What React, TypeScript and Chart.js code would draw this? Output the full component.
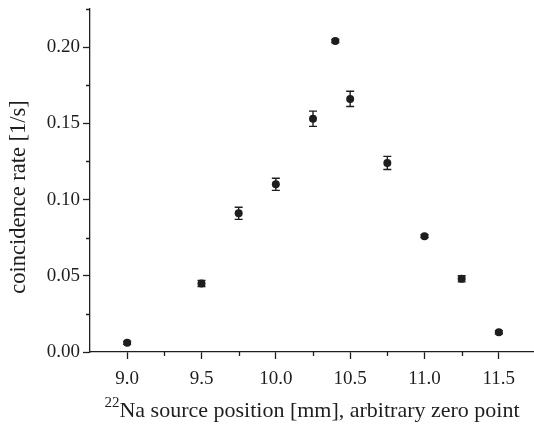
import React, { useEffect, useRef } from 'react';
import { Chart, registerables } from 'chart.js';

Chart.register(...registerables);

// ---- data ----
const positions = [9.0, 9.5, 9.75, 10.0, 10.25, 10.4, 10.5, 10.75, 11.0, 11.25, 11.5];
const rates = [0.006, 0.045, 0.091, 0.110, 0.153, 0.204, 0.166, 0.124, 0.076, 0.048, 0.013];
const rateErrors = [0.001, 0.002, 0.004, 0.004, 0.005, 0.001, 0.005, 0.0043, 0.001, 0.002, 0.001];

const xMajorTicks = [9.0, 9.5, 10.0, 10.5, 11.0, 11.5];
const xMinorTicks = [9.25, 9.75, 10.25, 10.75, 11.25, 11.75];
const yMajorTicks = [0, 0.05, 0.10, 0.15, 0.20];
const yMinorTicks = [0.025, 0.075, 0.125, 0.175, 0.225];

const xTitleSup = '22';
const xTitleMain = 'Na source position [mm], arbitrary zero point';
const yTitle = 'coincidence rate [1/s]';

const FONT = '"Liberation Serif", "DejaVu Serif", serif';
const INK = '#1e1e1e';

const errorBarPlugin = {
  id: 'errorBars',
  afterDatasetsDraw(chart: any) {
    const xs = chart.scales.x;
    const ys = chart.scales.y;
    const ctx = chart.ctx;
    ctx.save();
    ctx.strokeStyle = INK;
    ctx.lineWidth = 1.4;
    positions.forEach((p, i) => {
      const x = xs.getPixelForValue(p);
      const yTop = ys.getPixelForValue(rates[i] + rateErrors[i]);
      const yBot = ys.getPixelForValue(rates[i] - rateErrors[i]);
      ctx.beginPath();
      ctx.moveTo(x, yTop);
      ctx.lineTo(x, yBot);
      ctx.moveTo(x - 4, yTop);
      ctx.lineTo(x + 4, yTop);
      ctx.moveTo(x - 4, yBot);
      ctx.lineTo(x + 4, yBot);
      ctx.stroke();
    });
    ctx.restore();
  },
};

const minorTickAndTitlePlugin = {
  id: 'minorTicksTitles',
  afterDraw(chart: any) {
    const xs = chart.scales.x;
    const ys = chart.scales.y;
    const area = chart.chartArea;
    const ctx = chart.ctx;
    ctx.save();
    ctx.strokeStyle = INK;
    ctx.lineWidth = 1.3;
    ctx.beginPath();
    yMinorTicks.forEach((v) => {
      const y = Math.round(ys.getPixelForValue(v)) + 0.5;
      ctx.moveTo(area.left - 4, y);
      ctx.lineTo(area.left, y);
    });
    xMinorTicks.forEach((v) => {
      const x = Math.round(xs.getPixelForValue(v)) + 0.5;
      ctx.moveTo(x, area.bottom);
      ctx.lineTo(x, area.bottom + 4);
    });
    ctx.stroke();

    // x axis title with superscript
    ctx.fillStyle = INK;
    ctx.textBaseline = 'alphabetic';
    ctx.textAlign = 'left';
    const mainFont = `22px ${FONT}`;
    const supFont = `15px ${FONT}`;
    ctx.font = supFont;
    const supW = ctx.measureText(xTitleSup).width;
    ctx.font = mainFont;
    const mainW = ctx.measureText(xTitleMain).width;
    const startX = 312 - (supW + mainW) / 2;
    const baseY = 417;
    ctx.font = supFont;
    ctx.fillText(xTitleSup, startX, baseY - 10.5);
    ctx.font = mainFont;
    ctx.fillText(xTitleMain, startX + supW, baseY);

    // y axis title
    ctx.font = `22.5px ${FONT}`;
    ctx.textAlign = 'center';
    ctx.textBaseline = 'middle';
    ctx.translate(19, 197);
    ctx.rotate(-Math.PI / 2);
    ctx.fillText(yTitle, 0, 0);
    ctx.restore();
  },
};

export default function App() {
  const canvasRef = useRef<HTMLCanvasElement | null>(null);

  useEffect(() => {
    if (!canvasRef.current) return;
    const chart = new Chart(canvasRef.current, {
      type: 'scatter',
      data: {
        datasets: [
          {
            data: positions.map((p, i) => ({ x: p, y: rates[i] })),
            backgroundColor: INK,
            borderWidth: 0,
            pointRadius: 4,
            showLine: false,
          },
        ],
      },
      options: {
        animation: false,
        responsive: false,
        devicePixelRatio: 1,
        layout: { padding: { top: 9, right: 4, bottom: 0, left: 0 } },
        plugins: { legend: { display: false }, tooltip: { enabled: false } },
        scales: {
          x: {
            type: 'linear',
            min: 8.75,
            max: 11.75,
            afterBuildTicks: (s: any) => {
              s.ticks = xMajorTicks.map((v) => ({ value: v }));
            },
            afterFit: (s: any) => {
              s.height = 72;
              s.paddingLeft = 0;
              s.paddingRight = 0;
            },
            grid: { drawOnChartArea: false, tickLength: 7, tickColor: INK, tickWidth: 1.3 },
            border: { color: INK, width: 1.3 },
            ticks: {
              color: INK,
              font: { family: FONT, size: 19 },
              padding: 9,
              maxRotation: 0,
              autoSkip: false,
              callback: (v: any) => Number(v).toFixed(1),
            },
            title: { display: false },
          },
          y: {
            type: 'linear',
            min: 0,
            max: 0.225,
            afterBuildTicks: (s: any) => {
              s.ticks = yMajorTicks.map((v) => ({ value: v }));
            },
            afterFit: (s: any) => {
              s.width = 90;
              s.paddingTop = 0;
              s.paddingBottom = 0;
            },
            grid: { drawOnChartArea: false, tickLength: 7, tickColor: INK, tickWidth: 1.3 },
            border: { color: INK, width: 1.3 },
            ticks: {
              color: INK,
              font: { family: FONT, size: 19 },
              padding: 3,
              autoSkip: false,
              callback: (v: any) => Number(v).toFixed(2),
            },
          },
        },
      },
      plugins: [errorBarPlugin, minorTickAndTitlePlugin],
    });
    return () => chart.destroy();
  }, []);

  return (
    <div
      style={{
        position: 'fixed',
        left: 0,
        top: 0,
        width: 534,
        height: 424,
        overflow: 'hidden',
        background: '#fff',
      }}
    >
      <canvas ref={canvasRef} width={540} height={424} style={{ width: 540, height: 424 }} />
    </div>
  );
}
